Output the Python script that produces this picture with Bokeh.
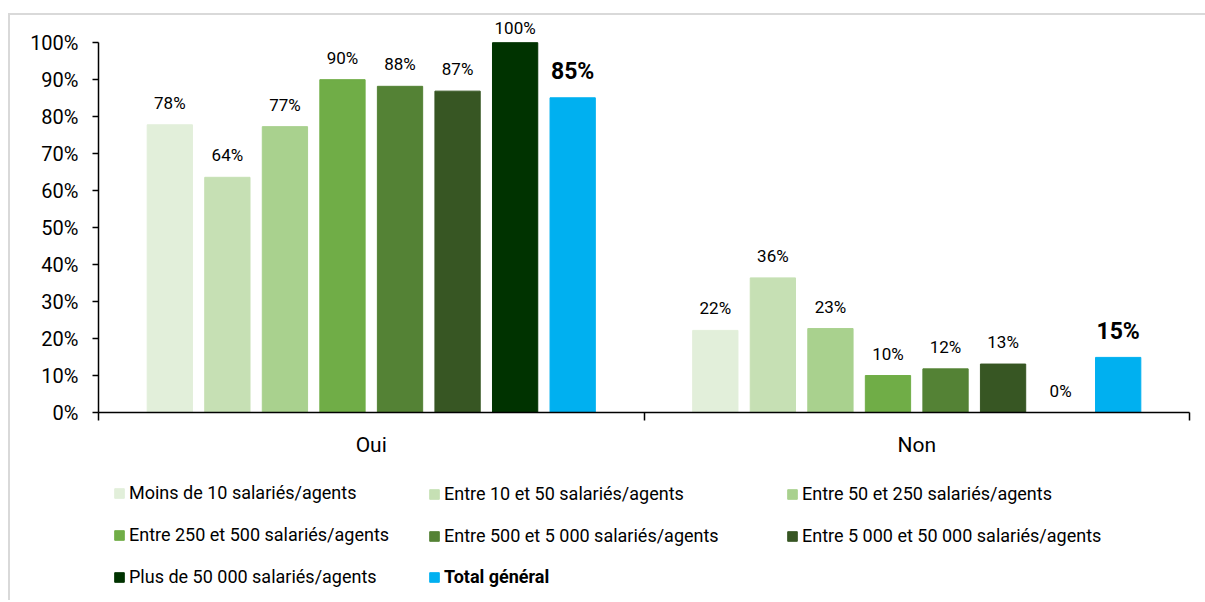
from bokeh.plotting import figure
from bokeh.layouts import column
from bokeh.models import FixedTicker, Legend, LegendItem, ColumnDataSource, Range1d
from bokeh.core.properties import value
from bokeh.embed import file_html
from bokeh.resources import INLINE

# ---- data ----
categories = ["Oui", "Non"]
series = [
    "Moins de 10 salariés/agents",
    "Entre 10 et 50 salariés/agents",
    "Entre 50 et 250 salariés/agents",
    "Entre 250 et 500 salariés/agents",
    "Entre 500 et 5 000 salariés/agents",
    "Entre 5 000 et 50 000 salariés/agents",
    "Plus de 50 000 salariés/agents",
    "Total général",
]
oui = [77.8, 63.6, 77.3, 90.0, 88.2, 86.9, 100.0, 85.1]
non = [22.2, 36.4, 22.7, 10.0, 11.8, 13.1, 0.0, 14.9]
colors = ["#E2EFDA", "#C6E0B4", "#A9D18E", "#70AD47", "#548235", "#375623", "#003300", "#00B0F0"]
y_ticks = [0, 10, 20, 30, 40, 50, 60, 70, 80, 90, 100]

FONT = "Roboto"
TOTAL_W = 1195

p = figure(
    output_backend="svg", toolbar_location=None,
    frame_width=1091, frame_height=392,
    x_range=Range1d(0, len(categories)), y_range=Range1d(0, 106),
    min_border_left=88, min_border_right=TOTAL_W - 88 - 1091, min_border_top=5, min_border_bottom=58,
)
p.outline_line_color = None
p.xgrid.visible = False
p.ygrid.visible = False
p.background_fill_color = "white"
p.border_fill_color = "white"

n = len(series)
step = 0.1055
bar_w = 0.083
renderers = []
for i in range(n):
    off = (i - (n - 1) / 2) * step
    vals = [oui[i], non[i]]
    bold = (i == n - 1)
    base_off = -26 if bold else -22
    src = ColumnDataSource(dict(
        x=[j + 0.5 + off for j in range(len(categories))],
        top=vals,
        lbl=[f"{round(v)}%" for v in vals],
        # labels of bars reaching the top of the scale are pulled down inside the chart
        yoff=[base_off if v < 97 else -15 for v in vals],
    ))
    r = p.vbar(x="x", top="top", width=bar_w, source=src, color=colors[i])
    renderers.append(r)
    t = p.text(x="x", y="top", text="lbl", source=src,
               text_align="center", text_baseline="alphabetic",
               y_offset="yoff",
               text_font=value(FONT),
               text_font_size="23px" if bold else "17px",
               text_font_style="bold" if bold else "normal",
               text_color="black")
    t.level = "overlay"

# axes
ya = p.yaxis[0]
ya.ticker = FixedTicker(ticks=y_ticks, minor_ticks=[])
ya.bounds = (0, 100)
ya.major_label_overrides = {t: f"{t}%" for t in y_ticks}
ya.major_tick_out = 6
ya.major_tick_in = 0
ya.major_label_standoff = 14
ya.axis_line_color = "black"
ya.axis_line_width = 1.5
ya.major_tick_line_color = "black"
ya.major_tick_line_width = 1.5
ya.major_label_text_font = FONT
ya.major_label_text_font_size = "20px"
ya.major_label_text_color = "black"

xa = p.xaxis[0]
xa.ticker = FixedTicker(ticks=[j + 0.5 for j in range(len(categories))],
                        minor_ticks=list(range(len(categories) + 1)))
xa.major_label_overrides = {j + 0.5: c for j, c in enumerate(categories)}
xa.major_tick_line_color = None
xa.major_tick_out = 0
xa.major_tick_in = 0
xa.minor_tick_out = 8
xa.minor_tick_in = 0
xa.minor_tick_line_color = "black"
xa.minor_tick_line_width = 1.5
xa.axis_line_color = "black"
xa.axis_line_width = 1.5
xa.major_label_standoff = 12
xa.major_label_text_font = FONT
xa.major_label_text_font_size = "21px"
xa.major_label_text_color = "black"

# ---- legend panel ----
pl = figure(
    output_backend="svg", toolbar_location=None,
    frame_width=TOTAL_W, frame_height=130,
    x_axis_location=None, y_axis_location=None,
    x_range=Range1d(0, 1), y_range=Range1d(0, 1),
    min_border=0,
)
pl.outline_line_color = None
pl.xgrid.visible = False
pl.ygrid.visible = False
# zero-height proxy bars so that the legend can show each series' swatch
leg_r = [pl.vbar(x=[0.5], top=[0], bottom=[0], width=0.0, color=c) for c in colors]


def add_legend(idx, vx, vy, bold=False):
    lg = Legend(
        items=[LegendItem(label=series[i], renderers=[leg_r[i]]) for i in idx],
        location=(vx, vy), orientation="vertical",
        spacing=21, padding=0, margin=0,
        glyph_width=12, glyph_height=12, label_height=20, label_standoff=4,
        label_text_font=FONT, label_text_font_size="18px",
        label_text_font_style="bold" if bold else "normal",
        label_text_color="black",
        border_line_color=None, background_fill_alpha=0,
    )
    pl.add_layout(lg)


add_legend([0, 3, 6], 103, 13)
add_legend([1, 4], 418, 54)
add_legend([7], 418, 13, bold=True)
add_legend([2, 5], 776, 54)

layout = column(p, pl, spacing=0)
layout.styles = {"border-top": "2px solid #D9D9D9", "border-left": "2px solid #D9D9D9",
                 "margin-top": "13px", "margin-left": "8px"}

open("out.html", "w").write(file_html(layout, INLINE))
